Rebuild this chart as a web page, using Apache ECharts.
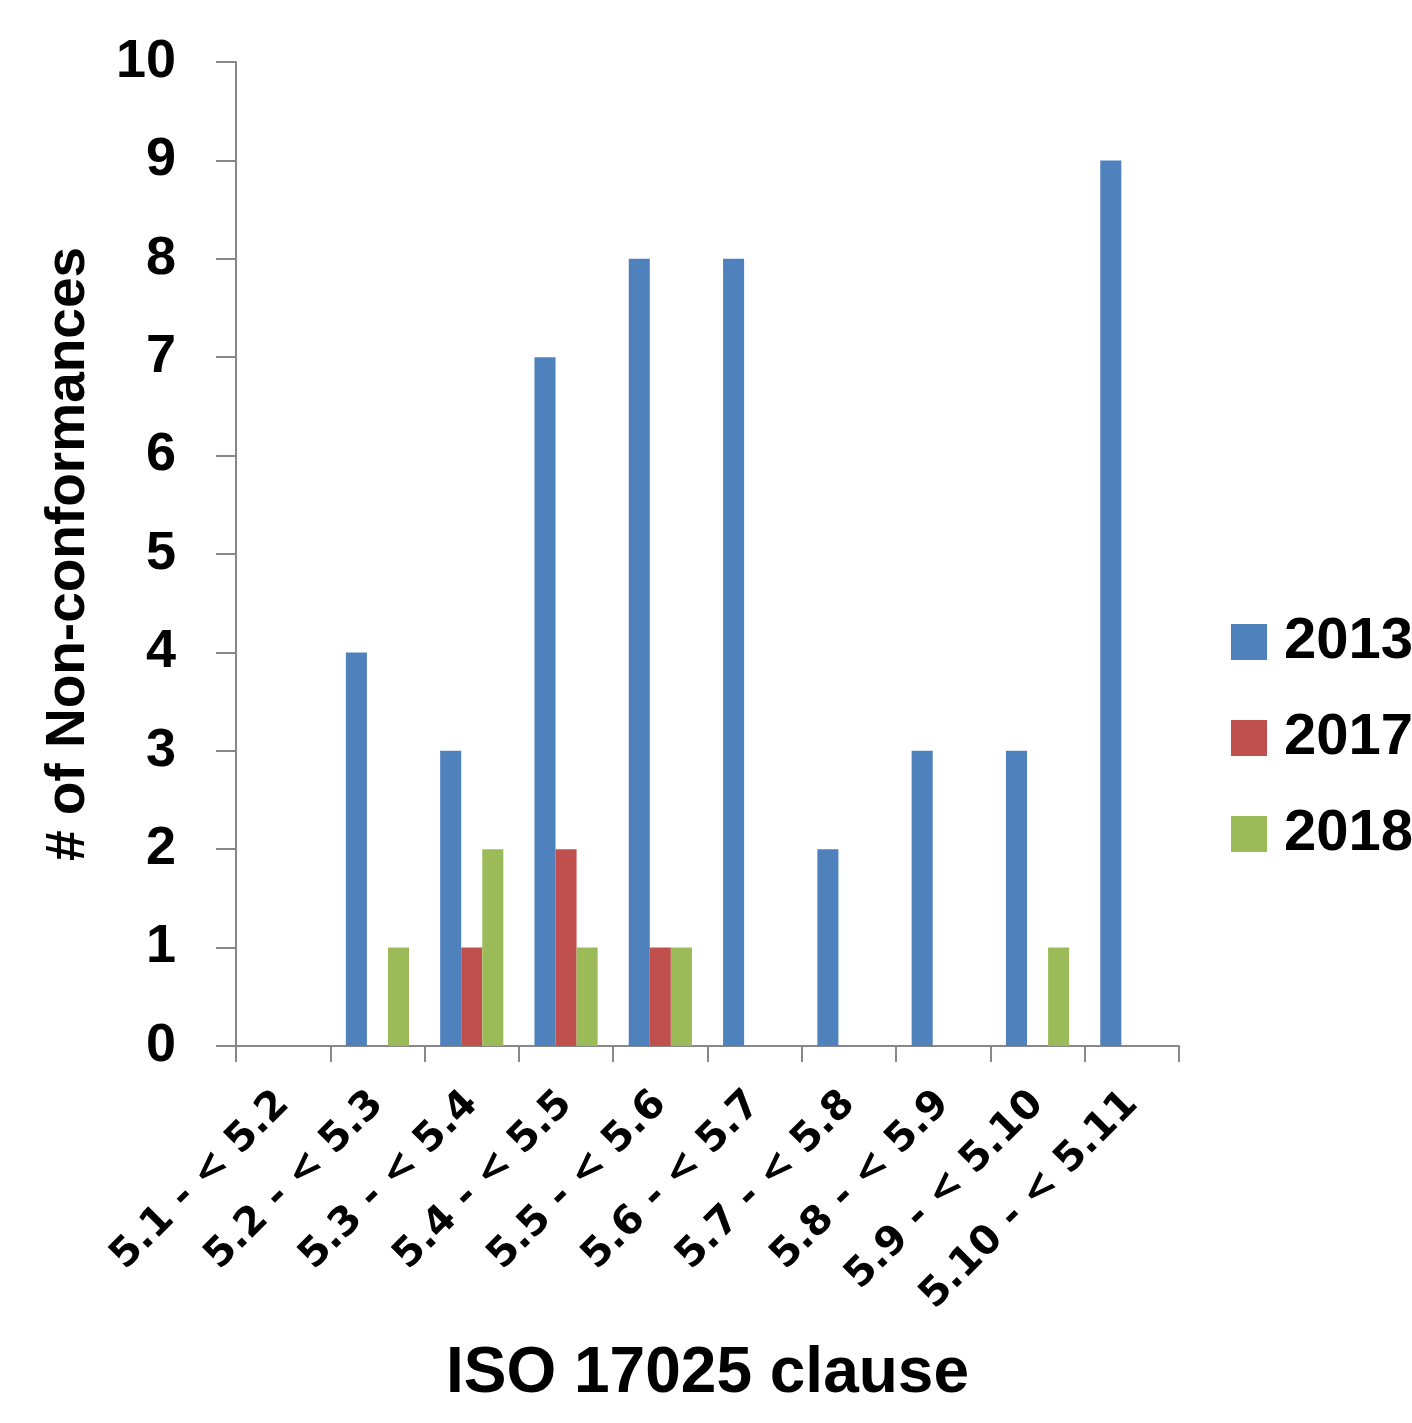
<!DOCTYPE html>
<html>
<head>
    <meta charset="utf-8">
    <script src="https://cdn.jsdelivr.net/npm/echarts@6/dist/echarts.min.js"></script>
    <style>
        html, body { margin: 0; padding: 0; background: #fff; }
    </style>
</head>
<body>
    <div id="main" style="width: 1412px;height:1423px;"></div>
    <script type="text/javascript">
        // data
        var clauses = ['5.1 - < 5.2', '5.2 - < 5.3', '5.3 - < 5.4', '5.4 - < 5.5', '5.5 - < 5.6',
                       '5.6 - < 5.7', '5.7 - < 5.8', '5.8 - < 5.9', '5.9 - < 5.10', '5.10 - < 5.11'];
        var nc2013 = [0, 4, 3, 7, 8, 8, 2, 3, 3, 9];
        var nc2017 = [0, 0, 1, 2, 1, 0, 0, 0, 0, 0];
        var nc2018 = [0, 1, 2, 1, 1, 0, 0, 0, 1, 0];

        var boldFont = 'Liberation Sans';
        var axisGray = '#888888';

        var myChart = echarts.init(document.getElementById('main'));
        myChart.setOption({
            animation: false,
            grid: { left: 236, right: 233, top: 62, bottom: 377 },
            legend: {
                orient: 'vertical',
                left: 1226,
                top: 608,
                itemWidth: 36,
                itemHeight: 36,
                itemGap: 38,
                icon: 'rect',
                textStyle: {
                    fontFamily: boldFont, fontWeight: 'bold', fontSize: 58,
                    color: '#000', lineHeight: 56, padding: [0, 0, 0, 12]
                },
                data: ['2013', '2017', '2018']
            },
            xAxis: {
                type: 'category',
                data: clauses,
                name: 'ISO 17025 clause',
                nameLocation: 'middle',
                nameGap: 296,
                nameTextStyle: { fontFamily: boldFont, fontWeight: 'bold', fontSize: 64, color: '#000' },
                axisLine: { lineStyle: { color: axisGray, width: 2 } },
                axisTick: { show: true, interval: 0, length: 16, lineStyle: { color: axisGray, width: 2 } },
                axisLabel: {
                    interval: 0, rotate: 45, margin: 52,
                    fontFamily: 'DejaVu Sans', fontWeight: 'bold', fontSize: 40, color: '#000'
                }
            },
            yAxis: {
                type: 'value',
                min: 0, max: 10, interval: 1,
                name: '# of Non-conformances',
                nameLocation: 'middle',
                nameGap: 140,
                nameTextStyle: { fontFamily: boldFont, fontWeight: 'bold', fontSize: 55, color: '#000' },
                axisLine: { show: true, lineStyle: { color: axisGray, width: 2 } },
                axisTick: { show: true, length: 20, lineStyle: { color: axisGray, width: 2 } },
                splitLine: { show: false },
                axisLabel: { margin: 60, fontFamily: boldFont, fontWeight: 'bold', fontSize: 54, color: '#000' }
            },
            series: [
                { name: '2013', type: 'bar', data: nc2013, barGap: 0, barCategoryGap: '33%', itemStyle: { color: '#4F81BD' } },
                { name: '2017', type: 'bar', data: nc2017, barGap: 0, barCategoryGap: '33%', itemStyle: { color: '#C0504D' } },
                { name: '2018', type: 'bar', data: nc2018, barGap: 0, barCategoryGap: '33%', itemStyle: { color: '#9BBB59' } }
            ]
        });
    </script>
</body>
</html>
